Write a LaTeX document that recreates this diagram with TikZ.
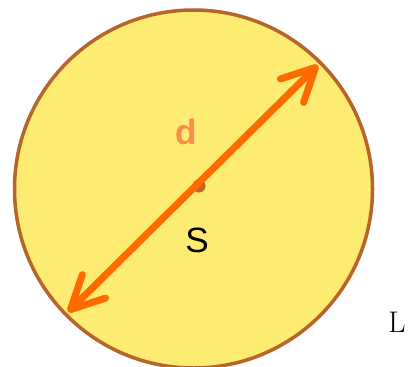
\documentclass[tikz,border=0pt]{standalone}
\usepackage{fontspec}
\newfontfamily\labsans{Liberation Sans}
\usetikzlibrary{arrows.meta}
\definecolor{discfill}{HTML}{FDEB72}
\definecolor{discrim}{HTML}{B6652B}
\definecolor{diamorange}{HTML}{FF6A00}
\definecolor{dlabel}{HTML}{FF8A4A}
\definecolor{ctrdot}{HTML}{C2622A}

\begin{document}
\begin{tikzpicture}[
        x=0.02cm, y=-0.02cm,
        disc/.style={
          draw=discrim, line width=2pt,
          fill=discfill,
        },
        diam/.style={
          {Straight Barb[length=0.66cm, width=0.66cm, round]}-{Straight Barb[length=0.66cm, width=0.66cm, round]},
          draw=diamorange, line width=4pt, line cap=round,
        },
        dot/.style={
          circle, fill=ctrdot, inner sep=0pt, minimum size=0.26cm,
        },
        label/.style={
          font=\labsans\fontsize{20}{24}\selectfont,
        },
      ]
      \useasboundingbox (0,0) rectangle (411,366);
      \draw[disc] (193.5,189) circle[radius=179];

      \node[dot] (ctr) at (199,186) {};
      \coordinate (lo) at (68,312);
      \coordinate (hi) at (318,65);

      \draw[diam] (lo) -- (hi);

      \node[label, text=dlabel, font=\labsans\bfseries\fontsize{20}{24}\selectfont] (dlab) at (186,132) {d};
      \node[label] (slab) at (197,240) {S};
      \node[font=\fontsize{17}{20}\selectfont] (llab) at (397,322) {L};
    \end{tikzpicture}
\end{document}
